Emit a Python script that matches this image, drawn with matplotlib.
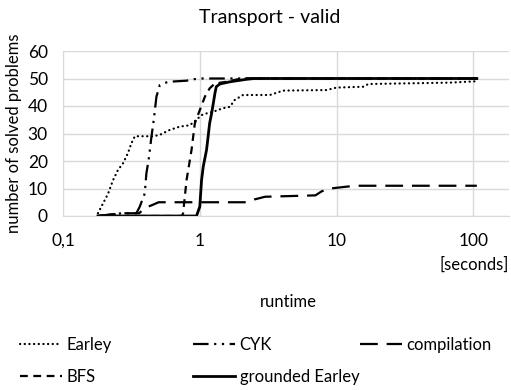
import matplotlib.pyplot as plt
from matplotlib import ticker as mticker

plt.rcParams['font.family'] = ['Lato', 'DejaVu Sans']

# Earley (dotted)
earley_x = [0.18, 0.213, 0.232, 0.252, 0.275, 0.298, 0.316, 0.335, 0.456, 0.51, 0.603, 0.714, 0.845,
            0.946, 1.03, 1.12, 1.25, 1.48, 1.66, 1.80, 2.07, 3.25, 4.07, 8.44, 10.0, 15.6, 17.1, 67.5, 106]
earley_y = [1, 8, 13, 16.7, 19.2, 22.8, 26.4, 29, 29, 29.5, 31.3, 32.5, 33,
            35, 36.7, 37.3, 37.9, 39.2, 39.7, 42.2, 44, 44, 45.6, 45.8, 46.7, 47, 48, 48.5, 49]

# CYK (dash dot dot)
cyk_x = [0.18, 0.27, 0.344, 0.364, 0.396, 0.407, 0.426, 0.443, 0.461, 0.482, 0.51, 0.586, 0.80, 0.89, 1.0, 106]
cyk_y = [0, 1, 1, 3.4, 8.2, 15.5, 21.6, 28.8, 35, 43.4, 47.6, 48.8, 49.2, 49.7, 50, 50]

# compilation (long dash)
comp_x = [0.18, 0.27, 0.36, 0.40, 0.45, 0.50, 2.2, 2.5, 3.0, 7.0, 7.8, 9.0, 12.0, 14.0, 106]
comp_y = [0, 1, 1, 3, 4, 5, 5, 6, 7, 7.5, 9, 10, 10.7, 11, 11]

# BFS (dash)
bfs_x = [0.18, 0.74, 0.755, 0.80, 0.87, 0.92, 1.0, 1.09, 1.18, 1.29, 1.57, 2.0, 106]
bfs_y = [0, 0, 1, 13, 24, 33.7, 38.5, 43.4, 46.4, 48.2, 48.8, 50, 50]

# grounded Earley (solid)
ground_x = [0.18, 0.946, 1.0, 1.03, 1.06, 1.12, 1.15, 1.18, 1.22, 1.25, 1.29, 1.32, 1.40, 1.66, 2.19, 2.5, 106]
ground_y = [0, 0, 3.4, 13, 18, 24, 28.8, 33.7, 37.3, 40.4, 44.6, 47, 48, 48.8, 49.7, 50, 50]

x_ticks = [0.1, 1, 10, 100]
x_ticklabels = ['0,1', '1', '10', '100']
y_ticks = [0, 10, 20, 30, 40, 50, 60]

fig = plt.figure(figsize=(5.11, 3.9), dpi=100)
ax = fig.add_axes([63 / 511, 1 - 216 / 390, (509 - 63) / 511, (216 - 51) / 390])

l_earley, = ax.plot(earley_x, earley_y, color='black', lw=1.6, linestyle=(0, (0.1, 2.0)),
                    dash_capstyle='round', label='Earley')
l_cyk, = ax.plot(cyk_x, cyk_y, color='black', lw=1.6, linestyle=(0, (7, 2.5, 1, 2.5, 1, 2.5)),
                 label='CYK')
l_comp, = ax.plot(comp_x, comp_y, color='black', lw=1.6, linestyle=(0, (8, 4)), label='compilation')
l_bfs, = ax.plot(bfs_x, bfs_y, color='black', lw=1.6, linestyle=(0, (3.5, 2.5)), label='BFS')
l_ground, = ax.plot(ground_x, ground_y, color='black', lw=2.0, linestyle='-', label='grounded Earley')

ax.set_xscale('log')
ax.set_xlim(0.1, 10 ** ((509 - 200) / 136.7))
ax.set_ylim(0, 60)
ax.xaxis.set_major_locator(mticker.FixedLocator(x_ticks))
ax.xaxis.set_major_formatter(mticker.FixedFormatter(x_ticklabels))
ax.xaxis.set_minor_locator(mticker.NullLocator())
ax.set_yticks(y_ticks)
ax.grid(True, color='#d9d9d9', lw=1)
ax.set_axisbelow(True)
for s in ['top', 'right', 'left']:
    ax.spines[s].set_visible(False)
ax.spines['bottom'].set_color('#d9d9d9')
ax.tick_params(axis='both', length=0, labelsize=12.5, colors='black')
ax.tick_params(axis='y', pad=11)
ax.tick_params(axis='x', pad=12)

fig.text(270 / 511, 1 - 17 / 390, 'Transport - valid', ha='center', va='center', fontsize=14)
fig.text(14 / 511, 1 - 133 / 390, 'number of solved problems', rotation=90,
         ha='center', va='center', fontsize=12)
fig.text(509 / 511, 1 - 265 / 390, '[seconds]', ha='right', va='center', fontsize=12)
fig.text(288 / 511, 1 - 302 / 390, 'runtime', ha='center', va='center', fontsize=12)

cols = [([l_earley, l_bfs], 20), ([l_cyk, l_ground], 193), ([l_comp], 360)]
for handles, xpix in cols:
    fig.legend(handles=handles, loc='upper left', bbox_to_anchor=(xpix / 511, 1 - 337 / 390),
               frameon=False, fontsize=12, handlelength=2.5, handletextpad=0.3,
               labelspacing=0.95, borderaxespad=0, borderpad=0)

fig.savefig('out.png', dpi=100)
